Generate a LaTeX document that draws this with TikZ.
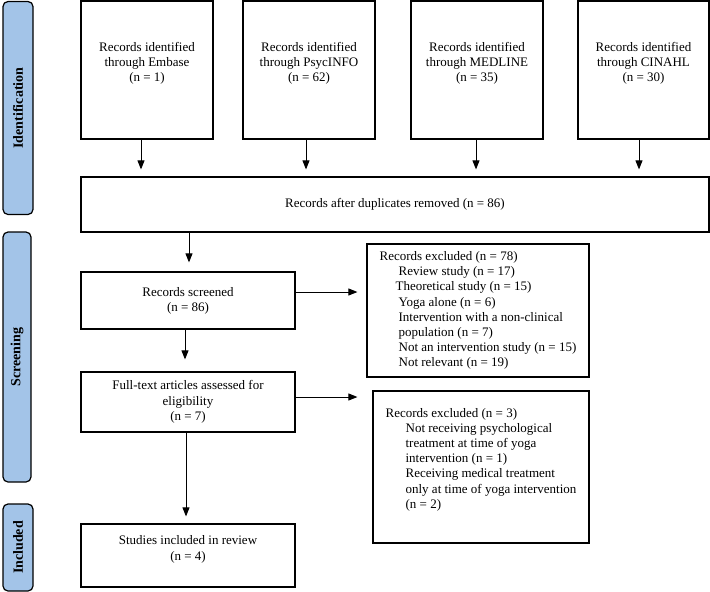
\documentclass[tikz,border=0pt]{standalone}
\usepackage{fontspec}
\setmainfont{Liberation Serif}
\usetikzlibrary{arrows.meta}
\definecolor{stageblue}{HTML}{A3C4E8}

\begin{document}
\begin{tikzpicture}[x=1pt,y=-1pt,
    box/.style={draw, line width=1.2pt, align=center, inner sep=0pt, font=\fontsize{13}{15.2}\selectfont},
    exclbox/.style={box, align=left},
    stage/.style={draw, line width=1.2pt, fill=stageblue, rounded corners=5pt, rotate=90, inner sep=0pt, font=\fontsize{14}{16}\selectfont\bfseries},
    arr/.style={-{Triangle[length=9pt,width=7pt]}, line width=0.9pt}]
    \useasboundingbox (0,0) rectangle (710,592);
    \node[stage, minimum width=213pt, minimum height=30pt] (ident) at (18,108) {Identification};
    \node[stage, minimum width=250pt, minimum height=28pt] (scrn) at (17,357) {Screening};
    \node[stage, minimum width=87pt, minimum height=30pt] (incl) at (18,547.5) {Included};
    \node[box, minimum width=132pt, minimum height=138pt, text depth=16pt] (emb) at (147,70) {Records identified\\through Embase\\(n = 1)};
    \node[box, minimum width=132pt, minimum height=138pt, text depth=16pt] (psy) at (309,70) {Records identified\\through PsycINFO\\(n = 62)};
    \node[box, minimum width=132pt, minimum height=138pt, text depth=16pt] (med) at (477,70) {Records identified\\through MEDLINE\\(n = 35)};
    \node[box, minimum width=131pt, minimum height=138pt, text depth=16pt] (cin) at (643.5,70) {Records identified\\through CINAHL\\(n = 30)};
    \node[box, minimum width=628pt, minimum height=55pt] (dup) at (395,204.5) {Records after duplicates removed (n = 86)};
    \node[box, minimum width=214pt, minimum height=57pt] (scr) at (188,300.5) {Records screened\\(n = 86)};
    \node[box, minimum width=214pt, minimum height=60pt] (ft) at (188,402) {Full-text articles assessed for\\eligibility\\(n = 7)};
    \node[box, minimum width=214pt, minimum height=63pt, text depth=15pt] (inc) at (188,555.5) {Studies included in review\\(n = 4)};
    \node[exclbox, minimum width=222pt, minimum height=133pt] (ex1) at (478,310.5) {Records excluded (n = 78)\\
        \hspace*{19pt}Review study (n = 17)\\
        \hspace*{16pt}Theoretical study (n = 15)\\
        \hspace*{19pt}Yoga alone (n = 6)\\
        \hspace*{19pt}Intervention with a non-clinical\\
        \hspace*{19pt}population (n = 7)\\
        \hspace*{19pt}Not an intervention study (n = 15)\\
        \hspace*{19pt}Not relevant (n = 19)};
    \node[exclbox, minimum width=216pt, minimum height=152pt, text depth=17.6pt] (ex2) at (481,467) {Records excluded (n = 3)\\
        \hspace*{20pt}Not receiving psychological\\
        \hspace*{20pt}treatment at time of yoga\\
        \hspace*{20pt}intervention (n = 1)\\
        \hspace*{20pt}Receiving medical treatment\\
        \hspace*{20pt}only at time of yoga intervention\\
        \hspace*{20pt}(n = 2)};
    \draw[arr, shorten >=7pt] ([xshift=-6pt]emb.south) -- ([xshift=-6pt]emb.south |- dup.north);
    \draw[arr, shorten >=7pt] ([xshift=-3pt]psy.south) -- ([xshift=-3pt]psy.south |- dup.north);
    \draw[arr, shorten >=7pt] ([xshift=-1pt]med.south) -- ([xshift=-1pt]med.south |- dup.north);
    \draw[arr, shorten >=7pt] ([xshift=-4.5pt]cin.south) -- ([xshift=-4.5pt]cin.south |- dup.north);
    \draw[arr, shorten >=9pt] ([xshift=1pt]scr.north |- dup.south) -- ([xshift=1pt]scr.north);
    \draw[arr, shorten >=12pt] ([xshift=-3pt]scr.south) -- ([xshift=-3pt]ft.north);
    \draw[arr, shorten >=7pt] ([xshift=-2pt]ft.south) -- ([xshift=-2pt]inc.north);
    \draw[arr, shorten >=9pt] ([yshift=8.5pt]scr.east) -- ([yshift=8.5pt]scr.east -| ex1.west);
    \draw[arr, shorten >=15pt] ([yshift=5pt]ft.east) -- ([yshift=5pt]ft.east -| ex2.west);
\end{tikzpicture}
\end{document}
